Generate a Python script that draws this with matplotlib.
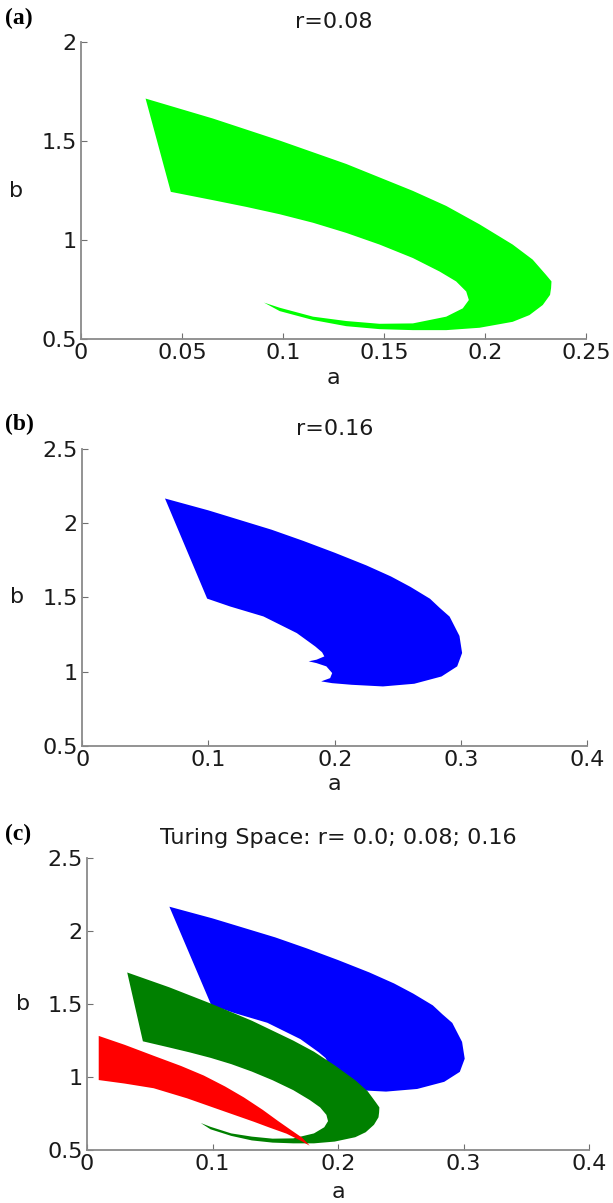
import matplotlib.pyplot as plt

# outline of the Turing region for r = 0.08 (a, b), traced around the boundary
green_a = [0.0320, 0.0654, 0.0984, 0.1313, 0.1643, 0.1808, 0.1973, 0.2137, 0.2236,
           0.2302, 0.2329, 0.2327, 0.2322, 0.2286, 0.2220, 0.2137, 0.1973, 0.1808,
           0.1643, 0.1478, 0.1313, 0.1149, 0.0984, 0.0906, 0.0984, 0.1149, 0.1313,
           0.1478, 0.1643, 0.1808, 0.1890, 0.1920, 0.1907, 0.1857, 0.1775, 0.1643,
           0.1478, 0.1313, 0.1149, 0.0984, 0.0819, 0.0654, 0.0445]
green_b = [1.715, 1.614, 1.503, 1.385, 1.249, 1.173, 1.080, 0.978, 0.902,
           0.825, 0.792, 0.758, 0.724, 0.673, 0.622, 0.588, 0.558, 0.546,
           0.546, 0.551, 0.566, 0.597, 0.642, 0.685, 0.659, 0.614, 0.592,
           0.578, 0.580, 0.614, 0.656, 0.698, 0.741, 0.792, 0.842, 0.910,
           0.978, 1.037, 1.088, 1.131, 1.168, 1.202, 1.244]

# outline for r = 0.16
blue_a = [0.0656, 0.1000, 0.1250, 0.1500, 0.1750, 0.2000, 0.2250, 0.2446, 0.2600,
          0.2755, 0.2830, 0.2910, 0.2988, 0.3009, 0.2970, 0.2846, 0.2630, 0.2382,
          0.2135, 0.1980, 0.1893, 0.1964, 0.1980, 0.1934, 0.1856, 0.1794, 0.1856,
          0.1918, 0.1900, 0.1846, 0.1700, 0.1436, 0.1172, 0.0990]
blue_b = [2.165, 2.085, 2.020, 1.955, 1.880, 1.800, 1.715, 1.640, 1.570,
          1.490, 1.430, 1.370, 1.240, 1.125, 1.035, 0.967, 0.918, 0.900,
          0.911, 0.922, 0.934, 0.956, 0.990, 1.035, 1.057, 1.069, 1.080,
          1.102, 1.130, 1.169, 1.259, 1.371, 1.438, 1.491]

# outline for r = 0.0
red_a = [0.0093, 0.0300, 0.0531, 0.0750, 0.0930, 0.1100, 0.1250, 0.1400, 0.1520,
         0.1620, 0.1713, 0.1774, 0.1700, 0.1590, 0.1450, 0.1328, 0.1062, 0.0797,
         0.0531, 0.0300, 0.0093]
red_b = [1.281, 1.220, 1.145, 1.075, 1.010, 0.935, 0.860, 0.775, 0.700,
         0.640, 0.585, 0.530, 0.565, 0.612, 0.655, 0.694, 0.774, 0.854,
         0.923, 0.955, 0.979]

xt_a = [0, 0.05, 0.1, 0.15, 0.2, 0.25]
yt_a = [0.5, 1, 1.5, 2]
xt_bc = [0, 0.1, 0.2, 0.3, 0.4]
yt_bc = [0.5, 1, 1.5, 2, 2.5]

plt.rcParams['font.family'] = ['DejaVu Sans']
FS = 16


def style(ax, xt, yt, title, xlab_y):
    # matlab look: box off, grey axes, inward ticks
    for s in ['top', 'right']:
        ax.spines[s].set_visible(False)
    for s in ['left', 'bottom']:
        ax.spines[s].set_color('#8a8a8a')
        ax.spines[s].set_linewidth(1.3)
    ax.tick_params(direction='in', length=4, color='#707070', labelcolor='#1a1a1a',
                   labelsize=FS)
    ax.tick_params(axis='x', pad=3)
    ax.tick_params(axis='y', pad=3)
    ax.set_xticks(xt)
    ax.set_yticks(yt)
    ax.set_xticklabels([f'{v:g}' for v in xt])
    ax.set_yticklabels([f'{v:g}' for v in yt])
    ax.set_xlim(xt[0], xt[-1])
    ax.set_ylim(yt[0], yt[-1])
    ax.set_xlabel('a', fontsize=FS, color='#1a1a1a', va='center')
    ax.xaxis.set_label_coords(0.5, xlab_y)
    ax.set_ylabel('b', fontsize=FS, color='#1a1a1a', rotation=0, va='center', ha='center')
    ax.yaxis.set_label_coords(-0.128, 0.5)
    ax.set_title(title, fontsize=FS, color='#1a1a1a', pad=10)


fig = plt.figure(figsize=(6.13, 12.03), dpi=100)

ax1 = fig.add_axes([0.132, 0.718, 0.824, 0.247])
ax1.fill(green_a, green_b, color='#00ff00', lw=0)
style(ax1, xt_a, yt_a, 'r=0.08', -0.13)

ax2 = fig.add_axes([0.134, 0.380, 0.824, 0.247])
ax2.fill(blue_a, blue_b, color='#0000ff', lw=0)
style(ax2, xt_bc, yt_bc, 'r=0.16', -0.13)

ax3 = fig.add_axes([0.142, 0.044, 0.819, 0.243])
ax3.fill(blue_a, blue_b, color='#0000ff', lw=0)
ax3.fill(green_a, green_b, color='#008000', lw=0)
ax3.fill(red_a, red_b, color='#ff0000', lw=0)
style(ax3, xt_bc, yt_bc, 'Turing Space: r= 0.0; 0.08; 0.16', -0.145)

for lab, y in [('(a)', 0.985), ('(b)', 0.647), ('(c)', 0.306)]:
    fig.text(0.008, y, lab, family='Liberation Serif', weight='bold', fontsize=17,
             va='center', ha='left')

fig.savefig('out.png', dpi=100)
